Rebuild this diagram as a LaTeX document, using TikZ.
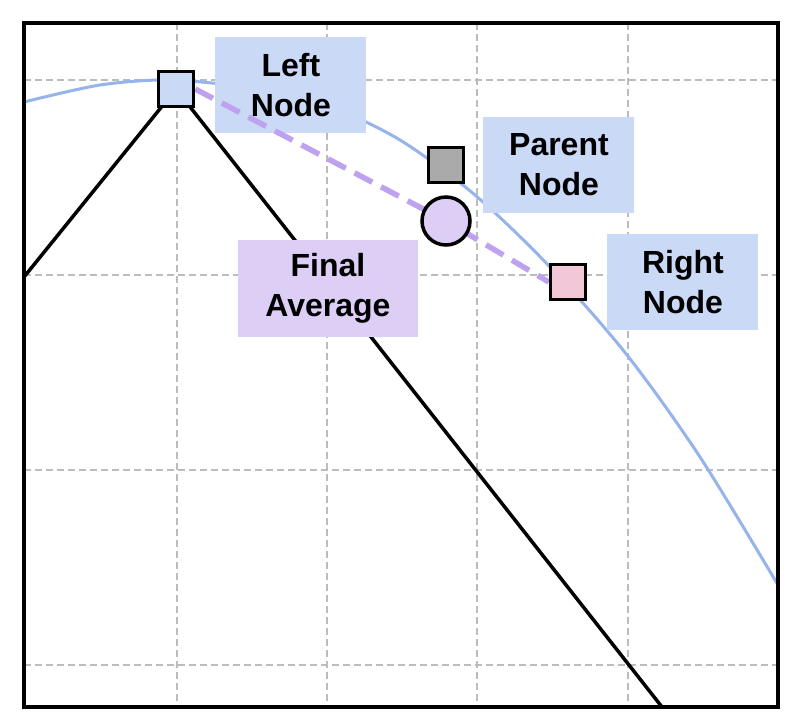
\documentclass[tikz,border=0pt]{standalone}
\usepackage{fontspec}
\setmainfont{Liberation Sans}
\usetikzlibrary{positioning}
\pgfdeclarelayer{back}
\pgfdeclarelayer{labels}
\pgfdeclarelayer{links}
\pgfsetlayers{back,labels,links,main}
\definecolor{boxblue}{RGB}{201,217,246}
\definecolor{boxlilac}{RGB}{221,206,245}
\definecolor{curveblue}{RGB}{150,180,235}
\definecolor{dashlilac}{RGB}{190,162,240}
\definecolor{nodepink}{RGB}{242,200,216}
\definecolor{nodegray}{RGB}{170,170,170}
\definecolor{gridgray}{RGB}{188,188,188}
\tikzset{
  marker/.style={draw=black, line width=3.5pt, minimum size=35pt, inner sep=0pt},
  tag/.style={fill=boxblue, minimum width=151pt, minimum height=96pt, inner sep=0pt,
    align=center, font=\fontsize{32}{40}\selectfont\bfseries},
  gridline/.style={gridgray, line width=1.8pt, dash pattern=on 7pt off 4pt},
  curveline/.style={curveblue, line width=3pt},
  tentline/.style={black, line width=3.5pt},
  avgline/.style={dashlilac, line width=5.5pt, dash pattern=on 20pt off 10pt},
}
\begin{document}
\begin{tikzpicture}[x=1pt,y=-1pt]
  \useasboundingbox (0,0) rectangle (800,724);
  % points on the curve
  \node[marker, fill=boxblue] (lsq) at (176,89) {};
  \node[marker, fill=nodegray] (psq) at (446,165) {};
  \node[marker, circle, fill=boxlilac, minimum size=48pt] (avg) at (446,221) {};
  \node[marker, fill=nodepink] (rsq) at (568,282) {};
  \begin{pgfonlayer}{labels}
    \node[tag, right=20pt of lsq, yshift=4pt] (leftlbl) {Left\\Node};
    \node[tag, right=18pt of psq] (parentlbl) {Parent\\Node};
    \node[tag, right=20pt of rsq] (rightlbl) {Right\\Node};
    \node[tag, fill=boxlilac, minimum width=180pt, minimum height=97pt] (finallbl) at (328,288.5) {Final\\Average};
  \end{pgfonlayer}
  \begin{pgfonlayer}{back}
    \fill[white] (0,0) rectangle (800,724);
    \foreach \gx in {177,327,477,628}
      \draw[gridline] (\gx,23) -- (\gx,707);
    \foreach \gy in {80,275,470,665}
      \draw[gridline] (24,\gy) -- (778,\gy);
    \draw[curveline] plot[smooth] coordinates {(24,102) (100,85) (170,80) (250,88) (330,107)
      (400,140) (475,195) (550,267) (627,355) (700,457) (778,585)};
    \coordinate (tentL) at (24,277);
    \coordinate (tentR) at (662,707);
    \draw[tentline] (tentL) -- (lsq.center) -- (tentR);
  \end{pgfonlayer}
  \begin{pgfonlayer}{links}
    \draw[avgline] (lsq.east) -- (avg.center) -- (rsq.west);
  \end{pgfonlayer}
  % frame
  \draw[line width=3.5pt] (24,23) rectangle (778,707);
\end{tikzpicture}
\end{document}
